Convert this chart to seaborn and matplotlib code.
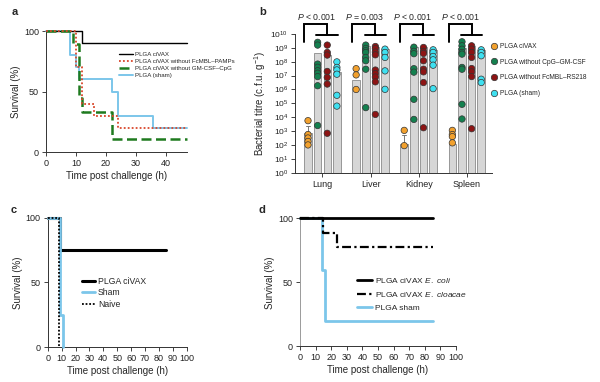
import numpy as np
import pandas as pd
import matplotlib
matplotlib.use('Agg')
import matplotlib.pyplot as plt
from matplotlib.lines import Line2D
import seaborn as sns

# ---- panel a: survival, PLGA variants ----
a_civax_t = [0, 12, 47]
a_civax_s = [100, 90, 90]
a_nopamp_t = [0, 10, 12, 16, 24, 47]
a_nopamp_s = [100, 70, 40, 30, 20, 20]
a_nocpg_t = [0, 9, 11, 12, 22, 47]
a_nocpg_s = [100, 88.9, 44.4, 33.3, 11.1, 11.1]
a_sham_t = [0, 8, 10, 11, 22, 24, 35.5, 47]
a_sham_s = [100, 80, 70, 60, 50, 30, 20, 20]
a_labels = ['PLGA ciVAX', 'PLGA ciVAX without FcMBL–PAMPs',
            'PLGA ciVAX without GM-CSF–CpG', 'PLGA (sham)']

# ---- panel b: bacterial titre, log10 c.f.u. per g ----
organs = ['Lung', 'Liver', 'Kidney', 'Spleen']
groups = ['PLGA ciVAX', 'PLGA without CpG–GM-CSF',
          'PLGA without FcMBL–RS218', 'PLGA (sham)']
civax_log = [[3.75, 2.75, 2.5, 2.25, 2.0],
             [7.5, 7.05, 6.0],
             [3.05, 1.95],
             [3.05, 2.75, 2.6, 2.15]]
nocpg_log = [[9.4, 9.2, 7.83, 7.6, 7.35, 7.17, 6.93, 6.27, 3.4],
             [9.2, 8.96, 8.8, 8.67, 8.31, 8.07, 7.46, 4.69],
             [9.05, 8.75, 8.58, 7.5, 7.25, 5.29, 3.84],
             [9.44, 9.15, 8.9, 8.67, 8.55, 7.59, 7.46, 4.93, 3.87]]
nofcmbl_log = [[9.2, 8.67, 8.48, 7.3, 6.87, 6.39, 2.84],
               [9.1, 8.95, 8.7, 8.5, 7.4, 7.15, 6.9, 6.55, 4.2],
               [9.03, 8.74, 8.6, 8.07, 7.46, 7.27, 6.5, 3.24],
               [9.15, 8.91, 8.67, 8.31, 7.51, 7.27, 6.93, 3.17]]
sham_log = [[7.99, 7.59, 7.41, 7.1, 5.58, 4.8],
            [8.91, 8.67, 8.31, 7.34, 6.01],
            [8.86, 8.67, 8.38, 8.14, 7.75, 6.06],
            [8.86, 8.67, 8.43, 6.74, 6.5]]
bar_log = {
    'PLGA ciVAX': [2.87, 6.67, 2.1, 2.1],
    'PLGA without CpG–GM-CSF': [8.6, 9.15, 9.08, 9.0],
    'PLGA without FcMBL–RS218': [8.45, 9.08, 9.03, 9.15],
    'PLGA (sham)': [7.23, 8.9, 8.86, 8.86],
}
civax_err_top = [3.4, np.nan, 2.75, np.nan]
p_texts = ['< 0.001', '= 0.003', '< 0.001', '< 0.001']
dot_colors = ['#f2a12e', '#14804f', '#8c1414', '#3fe0f0']
decades = list(range(11))

# ---- panel c ----
c_civax_t = [0, 9, 85]
c_civax_s = [100, 75, 75]
c_sham_t = [0, 9, 11]
c_sham_s = [100, 25, 0]
c_naive_t = [0, 8]
c_naive_s = [100, 0]
c_labels = ['PLGA ciVAX', 'Sham', 'Naive']

# ---- panel d ----
d_ecoli_t = [0, 85]
d_ecoli_s = [100, 100]
d_cloacae_t = [0, 15, 24, 85]
d_cloacae_s = [100, 88.9, 77.8, 77.8]
d_sham_t = [0, 14, 16, 85]
d_sham_s = [100, 60, 20, 20]
d_labels = [r'PLGA ciVAX $\it{E.\ coli}$', r'PLGA ciVAX $\it{E.\ cloacae}$', 'PLGA sham']

sns.set_style('ticks')
plt.rcParams['font.family'] = ['Liberation Sans', 'DejaVu Sans']
plt.rcParams['mathtext.fontset'] = 'custom'
plt.rcParams['mathtext.rm'] = 'Liberation Sans'
plt.rcParams['mathtext.it'] = 'Liberation Sans:italic'
plt.rcParams['mathtext.bf'] = 'Liberation Sans:bold'

SKY = '#7cc6ea'

fig = plt.figure(figsize=(6, 3.82), dpi=100)
ax_a = fig.add_axes([0.0767, 0.602, 0.235, 0.3168])
ax_b = fig.add_axes([0.4917, 0.548, 0.328, 0.363])
ax_c = fig.add_axes([0.0795, 0.0916, 0.2317, 0.3385])
ax_d = fig.add_axes([0.5, 0.093, 0.26, 0.3356])


def style_axis(ax, spine='#333333'):
    for s in ['top', 'right']:
        ax.spines[s].set_visible(False)
    for s in ['left', 'bottom']:
        ax.spines[s].set_color(spine)
        ax.spines[s].set_linewidth(0.7)
    ax.tick_params(direction='out', length=3, width=0.6, labelsize=6.5, pad=2,
                   colors='#222222')


def step(ax, t, s, **kw):
    sns.lineplot(x=t, y=s, drawstyle='steps-post', errorbar=None, ax=ax,
                 clip_on=False, **kw)


# panel a
step(ax_a, a_civax_t, a_civax_s, color='black', lw=1.0, label=a_labels[0], zorder=3)
step(ax_a, a_nopamp_t, a_nopamp_s, color='#d9472b', lw=1.3, linestyle=(0, (1, 1.2)),
     label=a_labels[1], zorder=5)
step(ax_a, a_nocpg_t, a_nocpg_s, color='#1f7a1f', lw=1.8, linestyle=(0, (4, 1.8)),
     label=a_labels[2], zorder=4)
step(ax_a, a_sham_t, a_sham_s, color=SKY, lw=1.4, label=a_labels[3], zorder=2)
ax_a.set_xlim(0, 47)
ax_a.set_ylim(0, 100)
ax_a.set_xticks([0, 10, 20, 30, 40])
ax_a.set_yticks([0, 50, 100])
ax_a.set_xlabel('Time post challenge (h)', fontsize=7, labelpad=2)
ax_a.set_ylabel('Survival (%)', fontsize=7, labelpad=2)
style_axis(ax_a)
h, l = ax_a.get_legend_handles_labels()
ax_a.legend(h, l, loc='center left', bbox_to_anchor=(0.52, 0.72), frameon=False,
            fontsize=4.4, handlelength=2.2, handletextpad=0.4, labelspacing=0.25,
            borderpad=0, borderaxespad=0)

# panel b (plotted as log10 values, ticks labelled as powers of ten)
bar_rows = [(o, g, bar_log[g][i]) for g in groups for i, o in enumerate(organs)]
bar_df = pd.DataFrame(bar_rows, columns=['organ', 'group', 'log_titre'])
dot_rows = []
for g, vals in zip(groups, [civax_log, nocpg_log, nofcmbl_log, sham_log]):
    for o, v in zip(organs, vals):
        dot_rows += [(o, g, x) for x in v]
dot_df = pd.DataFrame(dot_rows, columns=['organ', 'group', 'log_titre'])

sns.barplot(data=bar_df, x='organ', y='log_titre', hue='group', order=organs,
            hue_order=groups, palette={g: '#d6d6d6' for g in groups},
            edgecolor='#8a8a8a', linewidth=0.6, errorbar=None, gap=0.22,
            legend=False, ax=ax_b, zorder=1)
civax_bars = ax_b.containers[0]
for bar, top in zip(civax_bars, civax_err_top):
    if np.isnan(top):
        continue
    xc = bar.get_x() + bar.get_width() / 2
    ax_b.plot([xc, xc], [bar.get_height(), top], color='#777777', lw=0.7, zorder=2)
    ax_b.plot([xc - 0.04, xc + 0.04], [top, top], color='#777777', lw=0.7, zorder=2)

sns.stripplot(data=dot_df, x='organ', y='log_titre', hue='group', order=organs,
              hue_order=groups, palette=dot_colors, dodge=True, jitter=False,
              size=4.6, edgecolor='#333333', linewidth=0.5,
              legend=False, ax=ax_b, zorder=3)

ax_b.set_ylim(0, 10)
ax_b.set_xlim(-0.57, 3.52)
ax_b.set_yticks(decades)
ax_b.set_yticklabels([f'$10^{{{k}}}$' for k in decades])
ax_b.set_xlabel('')
ax_b.set_ylabel('Bacterial titre (c.f.u. g$^{-1}$)', fontsize=7, labelpad=2)
style_axis(ax_b)
ax_b.tick_params(axis='y', labelsize=6)

for i, p in enumerate(p_texts):
    top = 10.72
    ax_b.plot([i - 0.38, i - 0.38, i + 0.1, i + 0.1], [9.42, top, top, 9.93],
              color='black', lw=1.4, clip_on=False, solid_joinstyle='miter')
    ax_b.plot([i - 0.125, i + 0.32], [9.93, 9.93], color='black', lw=1.4, clip_on=False)
    ax_b.text(i - 0.12, 11.25, r'$\it{P}$ ' + p, ha='center', va='center',
              fontsize=6.3, clip_on=False)

b_handles = [Line2D([], [], ls='none', marker='o', markersize=4.6, markerfacecolor=c,
                    markeredgecolor='#333333', markeredgewidth=0.5) for c in dot_colors]
ax_b.legend(b_handles, groups, loc='center left', bbox_to_anchor=(0.997, 0.74),
            frameon=False, fontsize=4.8, handlelength=0.8, handletextpad=0.5,
            labelspacing=1.3, borderpad=0, borderaxespad=0)

# panel c
step(ax_c, c_civax_t, c_civax_s, color='black', lw=2.2, label=c_labels[0], zorder=2)
step(ax_c, c_sham_t, c_sham_s, color=SKY, lw=2.0, label=c_labels[1], zorder=3)
step(ax_c, c_naive_t, c_naive_s, color='black', lw=1.3, linestyle=(0, (1, 1)),
     label=c_labels[2], zorder=4)
ax_c.set_xlim(0, 100)
ax_c.set_ylim(0, 100)
ax_c.set_xticks(range(0, 101, 10))
ax_c.set_yticks([0, 50, 100])
ax_c.set_xlabel('Time post challenge (h)', fontsize=7, labelpad=2)
ax_c.set_ylabel('Survival (%)', fontsize=7, labelpad=2)
style_axis(ax_c)
h, l = ax_c.get_legend_handles_labels()
ax_c.legend(h, l, loc='center left', bbox_to_anchor=(0.245, 0.42), frameon=False,
            fontsize=6.2, handlelength=1.5, handletextpad=0.4, labelspacing=0.3,
            borderpad=0, borderaxespad=0)

# panel d
step(ax_d, d_ecoli_t, d_ecoli_s, color='black', lw=2.0, label=d_labels[0], zorder=3)
step(ax_d, d_cloacae_t, d_cloacae_s, color='black', lw=1.6,
     linestyle=(0, (4, 1.5, 1, 1.5)), label=d_labels[1], zorder=4)
step(ax_d, d_sham_t, d_sham_s, color=SKY, lw=2.0, label=d_labels[2], zorder=2)
ax_d.set_xlim(0, 100)
ax_d.set_ylim(0, 100)
ax_d.set_xticks(range(0, 101, 10))
ax_d.set_yticks([0, 50, 100])
ax_d.set_xlabel('Time post challenge (h)', fontsize=7, labelpad=2)
ax_d.set_ylabel('Survival (%)', fontsize=7, labelpad=2)
style_axis(ax_d)
ax_d.spines['left'].set_color('#9a9a9a')
h, l = ax_d.get_legend_handles_labels()
ax_d.legend(h, l, loc='center left', bbox_to_anchor=(0.368, 0.41), frameon=False,
            fontsize=6.0, handlelength=1.7, handletextpad=0.4, labelspacing=0.6,
            borderpad=0, borderaxespad=0)

for x, y, s in [(0.025, 0.969, 'a'), (0.438, 0.969, 'b'), (0.023, 0.45, 'c'), (0.437, 0.45, 'd')]:
    fig.text(x, y, s, fontsize=8, fontweight='bold', ha='center', va='center')

fig.savefig('out.png', dpi=100)
